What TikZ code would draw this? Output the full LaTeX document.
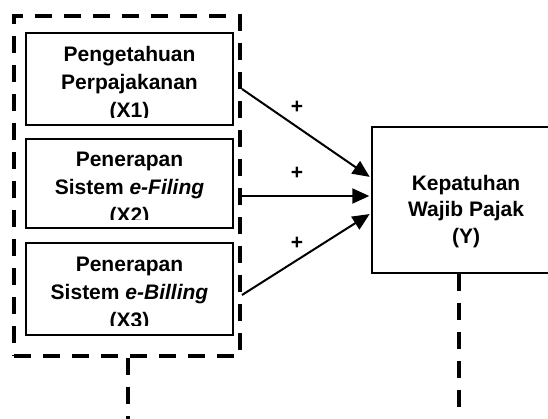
\documentclass[tikz,border=0pt]{standalone}
\usepackage{fontspec}
\setmainfont{Liberation Sans}
\usetikzlibrary{arrows.meta, positioning, calc}

\begin{document}
\begin{tikzpicture}[
    x=1pt, y=-1pt,
    varbox/.style={rectangle, draw, line width=1.4pt, inner sep=0pt, minimum width=207pt},
    vartext/.style={align=center, inner sep=0pt, anchor=north, font=\fontsize{21}{28}\selectfont\bfseries},
    dashline/.style={line width=4pt, dash pattern=on 17pt off 12pt},
    arrow/.style={-{Triangle[length=17pt,width=15pt]}, line width=2pt, shorten >=2pt},
    signlabel/.style={font=\fontsize{21}{21}\selectfont\bfseries, inner sep=0pt},
]
\clip (0,0) rectangle (548,418);

% Independent variables
\node[varbox, minimum height=92pt] (b1) at (129.5,79) {};
\node[varbox, minimum height=89pt] (b2) at (129.5,183.5) {};
\node[varbox, minimum height=92pt] (b3) at (129.5,289) {};

\begin{scope}
\clip (b1.north west) rectangle ([yshift=8pt]b1.south east);
\node[vartext] (t1) at (129.5,46) {Pengetahuan\\Perpajakanan\\(X1)};
\end{scope}
\begin{scope}
\clip (b2.north west) rectangle ([yshift=9pt]b2.south east);
\node[vartext] (t2) at (129.5,152) {Penerapan\\Sistem \textit{e-Filing}\\(X2)};
\end{scope}
\begin{scope}
\clip (b3.north west) rectangle ([yshift=10pt]b3.south east);
\node[vartext] (t3) at (129.5,257) {Penerapan\\Sistem \textit{e-Billing}\\(X3)};
\end{scope}

% Dashed group round X1--X3
\node[rectangle, draw, dashline, inner sep=0pt, minimum width=226pt, minimum height=340pt] (grp) at (127,185.75) {};

% Dependent variable
\node[rectangle, draw, line width=1.4pt, inner sep=0pt, minimum width=188pt, minimum height=146pt] (y) at (466,200) {};
\node[vartext, font=\fontsize{21}{26.5}\selectfont\bfseries] (ty) at (466,175) {Kepatuhan\\Wajib Pajak\\(Y)};

% Hypotheses
\draw[arrow] ([yshift=-10pt]b1.east -| grp.east) -- ([yshift=22pt]y.west);
\draw[arrow] ([yshift=-12.5pt]b2.east -| grp.east) -- ([yshift=4pt]y.west);
\draw[arrow] ([yshift=-6pt]b3.east -| grp.east) -- ([yshift=-13pt]y.west);

\node[signlabel] (s1) at (297,107) {+};
\node[signlabel] (s2) at (297,173) {+};
\node[signlabel] (s3) at (297,243) {+};

% Dashed drop lines
\coordinate (xend) at (128,430);
\coordinate (yend) at (459,408);
\draw[dashline] (grp.south -| xend) -- (xend);
\draw[dashline] (y.south -| yend) -- (yend);

\end{tikzpicture}
\end{document}
